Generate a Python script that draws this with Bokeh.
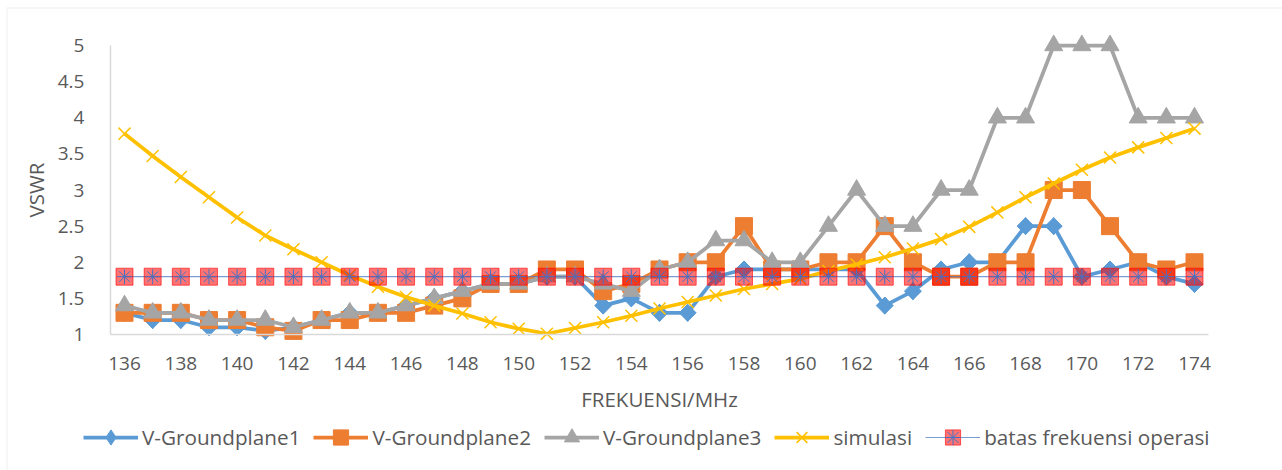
from bokeh.plotting import figure
from bokeh.models import (Range1d, FixedTicker, CustomJSTickFormatter, Legend, LegendItem,
                          BoxAnnotation)
from bokeh.embed import file_html
from bokeh.resources import INLINE
import math

freq = [136, 137, 138, 139, 140, 141, 142, 143, 144, 145, 146, 147, 148, 149, 150,
        151, 152, 153, 154, 155, 156, 157, 158, 159, 160, 161, 162, 163, 164, 165,
        166, 167, 168, 169, 170, 171, 172, 173, 174]

gp1 = [1.3, 1.2, 1.2, 1.1, 1.1, 1.05, 1.1, 1.2, 1.3, 1.3, 1.4, 1.5, 1.6, 1.7, 1.7,
       1.8, 1.8, 1.4, 1.5, 1.3, 1.3, 1.8, 1.9, 1.9, 1.9, 1.9, 1.9, 1.4, 1.6, 1.9,
       2.0, 2.0, 2.5, 2.5, 1.8, 1.9, 2.0, 1.8, 1.7]

gp2 = [1.3, 1.3, 1.3, 1.2, 1.2, 1.1, 1.05, 1.2, 1.2, 1.3, 1.3, 1.4, 1.5, 1.7, 1.7,
       1.9, 1.9, 1.6, 1.7, 1.9, 2.0, 2.0, 2.5, 1.9, 1.9, 2.0, 2.0, 2.5, 2.0, 1.8,
       1.8, 2.0, 2.0, 3.0, 3.0, 2.5, 2.0, 1.9, 2.0]

gp3 = [1.4, 1.3, 1.3, 1.2, 1.2, 1.2, 1.1, 1.2, 1.3, 1.3, 1.4, 1.5, 1.6, 1.7, 1.7,
       1.8, 1.8, 1.7, 1.6, 1.9, 2.0, 2.3, 2.3, 2.0, 2.0, 2.5, 3.0, 2.5, 2.5, 3.0,
       3.0, 4.0, 4.0, 5.0, 5.0, 5.0, 4.0, 4.0, 4.0]

simulasi = [3.78, 3.47, 3.18, 2.90, 2.62, 2.37, 2.18, 2.00, 1.82, 1.66, 1.52, 1.40, 1.29, 1.17, 1.08,
            1.01, 1.09, 1.17, 1.26, 1.36, 1.45, 1.54, 1.63, 1.70, 1.77, 1.88, 1.97, 2.07, 2.19, 2.32,
            2.49, 2.69, 2.90, 3.09, 3.28, 3.45, 3.59, 3.72, 3.85]

batas = [1.8] * 39

x_ticks = [136, 138, 140, 142, 144, 146, 148, 150, 152, 154, 156, 158, 160, 162, 164,
           166, 168, 170, 172, 174]
y_ticks = [1, 1.5, 2, 2.5, 3, 3.5, 4, 4.5, 5]

FONT = "Open Sans"
TXT = "#595959"
W, H = 1282, 470
X_PX = 1070 / 38.0   # pixels per MHz
Y_PX = 289 / 4.0     # pixels per VSWR unit
x0 = 136 - 124 / X_PX
y1 = 5 + 45 / Y_PX

p = figure(frame_width=W, frame_height=H, output_backend="svg", toolbar_location=None,
           x_range=Range1d(x0, x0 + W / X_PX), y_range=Range1d(y1 - H / Y_PX, y1),
           min_border=0)
p.outline_line_color = None
p.xgrid.visible = False
p.ygrid.visible = False

# axes, pinned to the plot area
p.yaxis.fixed_location = 135.5
p.yaxis.ticker = FixedTicker(ticks=y_ticks)
p.yaxis.formatter = CustomJSTickFormatter(code="return tick.toString();")
p.yaxis.bounds = (1, 5)
p.yaxis.axis_line_color = "#d9d9d9"
p.yaxis.axis_line_width = 1.5
p.yaxis.major_tick_line_color = None
p.yaxis.minor_tick_line_color = None
p.yaxis.major_label_standoff = 20
p.yaxis.axis_label = "VSWR"
p.yaxis.axis_label_standoff = 5
p.yaxis.axis_label_text_font_style = "normal"

p.xaxis.fixed_location = 1
p.xaxis.ticker = FixedTicker(ticks=x_ticks)
p.xaxis.bounds = (135.5, 174.5)
p.xaxis.axis_line_color = "#d9d9d9"
p.xaxis.axis_line_width = 1.5
p.xaxis.major_tick_line_color = None
p.xaxis.minor_tick_line_color = None
p.xaxis.major_label_standoff = 16
p.xaxis.axis_label = "FREKUENSI/MHz"
p.xaxis.axis_label_standoff = 12
p.xaxis.axis_label_text_font_style = "normal"

for ax in (p.xaxis[0], p.yaxis[0]):
    ax.major_label_text_font = FONT
    ax.major_label_text_font_size = "19px"
    ax.major_label_text_color = TXT
    ax.axis_label_text_font = FONT
    ax.axis_label_text_font_size = "20.5px"
    ax.axis_label_text_color = TXT

# chart border (top and left edges visible in the reference)
p.add_layout(BoxAnnotation(left=x0 + 6.5 / X_PX, right=x0 + (W + 20) / X_PX,
                           top=y1 - 7.5 / Y_PX, bottom=y1 - (H + 20) / Y_PX,
                           fill_alpha=0, line_color="#d9d9d9", line_width=1.5))

# series
l1 = p.line(freq, gp1, line_color="#5B9BD5", line_width=3.75)
m1b = p.scatter(freq, gp1, marker="diamond", size=17,
                fill_color="#5B9BD5", line_color="#5B9BD5")
m1 = p.scatter(freq, gp1, marker="square", angle=math.pi / 4, size=12,
               fill_color="#5B9BD5", line_color="#5B9BD5")
l2 = p.line(freq, gp2, line_color="#ED7D31", line_width=3.75)
m2 = p.scatter(freq, gp2, marker="square", size=17,
               fill_color="#ED7D31", line_color="#ED7D31")
l3 = p.line(freq, gp3, line_color="#A5A5A5", line_width=3.75)
m3 = p.scatter(freq, gp3, marker="triangle", size=18,
               fill_color="#A5A5A5", line_color="#A5A5A5")
l4 = p.line(freq, simulasi, line_color="#FFC000", line_width=3.75)
m4 = p.scatter(freq, simulasi, marker="x", size=17, line_color="#FFC000", line_width=1.5)
l5 = p.line(freq, batas, line_color="#4472C4", line_width=1.2, line_alpha=0.7)
m5a = p.scatter(freq, batas, marker="square", size=17, fill_color="#FF0000", fill_alpha=0.55,
                line_color="#FF0000", line_alpha=0.6)
m5b = p.scatter(freq, batas, marker="asterisk", size=15, line_color="#4472C4", line_width=1)

legend = Legend(items=[
    LegendItem(label="V-Groundplane1", renderers=[l1, m1b]),
    LegendItem(label="V-Groundplane2", renderers=[l2, m2]),
    LegendItem(label="V-Groundplane3", renderers=[l3, m3]),
    LegendItem(label="simulasi", renderers=[l4, m4]),
    LegendItem(label="batas frekuensi operasi", renderers=[l5, m5a, m5b]),
], orientation="horizontal", location=(83, 14))
legend.label_text_font = FONT
legend.label_text_font_size = "20.7px"
legend.label_text_color = TXT
legend.glyph_width = 55
legend.glyph_height = 38
legend.label_standoff = 4
legend.spacing = 13
legend.padding = 0
legend.margin = 0
legend.border_line_color = None
legend.background_fill_alpha = 0
p.add_layout(legend, "center")

open("out.html", "w").write(file_html(p, INLINE))
